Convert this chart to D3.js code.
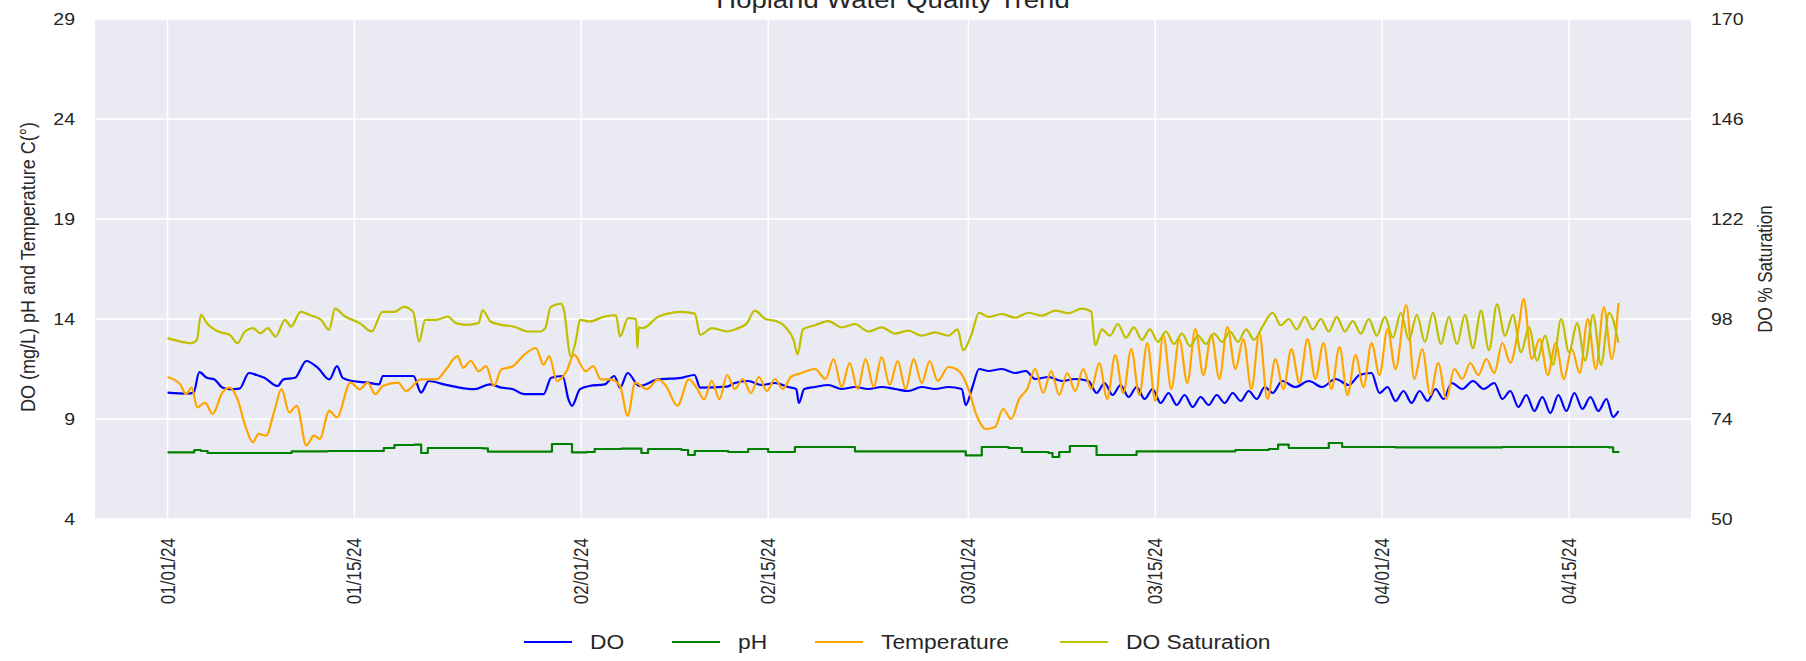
<!DOCTYPE html>
<html>
<head>
<meta charset="utf-8">
<script src="https://cdn.jsdelivr.net/npm/d3@7"></script>
<style>
body { margin: 0; background: #fff; }
svg text { font-family: "Liberation Sans", Arial, sans-serif; fill: #262626; }
</style>
</head>
<body>
<svg id="chart" width="1806" height="661"></svg>
<script>
// Readings, [days since 01/01/24, value]
const startDate = new Date(2024, 0, 1);

const doValues = [[0,10.32],[1.52,10.27],[1.95,10.32],[2.38,11.34],[2.95,11.06],[3.52,10.98],[4.1,10.57],[4.67,10.49],[5.39,10.52],[6.1,11.3],[6.68,11.2],[7.25,11.06],[8.25,10.65],[8.68,10.98],[9.54,11.06],[10.4,11.9],[11.26,11.56],[12.12,10.98],[12.7,11.64],[13.12,11.06],[13.84,10.9],[14.99,10.82],[15.85,10.73],[16.13,11.15],[17.28,11.15],[18.42,11.15],[19,10.32],[19.57,10.9],[20.72,10.73],[21.86,10.57],[23,10.49],[24.15,10.73],[25,10.57],[25.87,10.49],[26.73,10.24],[28.17,10.24],[28.74,11.06],[29.6,11.15],[30.03,9.99],[30.3,9.66],[30.9,10.49],[31.6,10.65],[32.75,10.73],[33.47,11.15],[33.9,10.57],[34.47,11.3],[35.33,10.65],[36.76,10.98],[38.48,11.06],[39.48,11.2],[39.9,10.57],[41.9,10.62],
  [42.5,10.8],[43.5,10.9],[44.5,10.7],[45.5,10.8],[46.5,10.6],[47.1,10.5],[47.3,9.8],[47.7,10.5],[48.5,10.6],[49.5,10.7],[50.5,10.5],[51.5,10.6],[52.5,10.5],[53.5,10.6],[54.5,10.5],[55.5,10.4],[56.5,10.6],[57.5,10.5],[58.5,10.6],[59.5,10.5],[59.8,9.7],[60.3,10.6],[60.8,11.5],[61.5,11.4],[62.5,11.5],[63.5,11.3],[64.3,11.4],[65,11.0],[66,11.1],[67,10.9],[68,11.0],[69,10.9],[69.6,10.3],[70.2,10.8],[70.8,10.2],[71.4,10.7],[72,10.1],[72.6,10.6],[73.2,10.0],[73.8,10.5],[74.4,9.8],[75,10.3],[75.6,9.7],[76.2,10.2],[76.8,9.6],[77.4,10.1],[78,9.7],[78.6,10.2],[79.2,9.8],[79.8,10.3],[80.4,9.9],[81,10.4],[81.6,10.0],[82.2,10.6],[82.8,10.3],[83.5,10.9],[84.5,10.6],[85.5,10.9],[86.5,10.6],[87.5,11.0],[88.5,10.7],[89.3,11.2],[90.2,11.3],[90.8,10.3],[91.4,10.6],[92,9.9],[92.6,10.4],[93.2,9.8],[93.8,10.4],[94.4,9.9],[95,10.5],[95.6,10.0],[96.2,10.8],[97,10.5],[97.8,10.9],[98.6,10.5],[99.4,10.8],[100,10.0],[100.6,10.4],[101.2,9.6],[101.8,10.2],[102.4,9.4],[103,10.1],[103.6,9.3],[104.2,10.2],[104.8,9.4],[105.4,10.3],[106,9.5],[106.6,10.1],[107.2,9.4],[107.8,10.0],[108.3,9.1],[108.7,9.4]];

const phValues = [[0,7.33],[1.5,7.33],[2,7.45],[2.5,7.4],[3,7.3],[9,7.3],[9.3,7.38],[12,7.4],[15.4,7.4],[16.2,7.55],[17,7.7],[18.5,7.72],[19,7.3],[19.5,7.55],[23.6,7.53],[24,7.37],[28.5,7.37],[28.8,7.75],[30,7.75],[30.3,7.33],[31.4,7.35],[32,7.5],[34,7.52],[35.5,7.3],[36,7.5],[38.5,7.45],[39,7.2],[39.5,7.4],[42,7.35],[43.5,7.5],[45,7.35],[47,7.6],[51,7.6],[51.5,7.38],[59.5,7.38],[59.8,7.18],[61,7.6],[63,7.55],[64,7.35],[66,7.3],[66.3,7.1],[66.8,7.35],[67.6,7.65],[69.3,7.65],[69.6,7.2],[72.3,7.2],[72.6,7.38],[78.4,7.38],[80,7.45],[82.5,7.5],[83.2,7.72],[84,7.55],[86,7.55],[87,7.8],[88,7.6],[92,7.58],[100,7.6],[104,7.6],[108,7.58],[108.3,7.35],[108.7,7.4]];

const tempValues = [[0,11.1],[0.95,10.73],[1.38,10.24],[1.8,10.57],[2.23,9.58],[2.81,9.82],[3.38,9.25],[4.1,10.32],[4.67,10.57],[5.24,9.99],[5.82,8.67],[6.39,7.84],[6.82,8.26],[7.39,8.17],[7.97,9.33],[8.54,10.49],[9.11,9.33],[9.68,9.66],[10.4,7.68],[10.97,8.17],[11.4,8.01],[12.12,9.41],[12.69,9.08],[13.7,10.82],[14.41,10.49],[14.99,10.82],[15.56,10.24],[16.13,10.65],[17.28,10.82],[17.85,10.4],[19,10.98],[20.14,10.98],[20.86,11.48],[21.72,12.14],[22.15,11.56],[22.72,11.9],[23.3,11.39],[23.87,11.64],[24.44,10.65],[25.01,11.48],[25.87,11.64],[26.73,12.22],[27.59,12.55],[28.17,11.72],[28.6,12.14],[29.17,10.9],[29.89,11.39],[30.46,12.22],[31.32,11.39],[31.89,11.64],[32.46,10.98],[33.18,10.98],[33.9,10.65],[34.47,9.17],[35.04,10.82],[35.9,10.49],[36.76,10.98],[37.34,10.65],[38.2,9.66],[39.05,10.98],[39.63,10.57],[40.2,9.99],[40.77,10.9],[41.35,9.99],[41.92,11.2],
  [42.5,10.5],[43.1,11.0],[43.7,10.3],[44.3,11.1],[44.9,10.4],[45.5,11.0],[46.1,10.5],[46.7,11.1],[47.5,11.3],[48.5,11.5],[49.3,11.0],[49.9,12.0],[50.5,10.6],[51.1,11.8],[51.7,10.5],[52.3,12.0],[52.9,10.6],[53.5,12.1],[54.1,10.7],[54.7,11.9],[55.3,10.5],[55.9,12.0],[56.5,10.8],[57.1,11.9],[57.7,10.9],[58.5,11.6],[59.3,11.4],[60,10.5],[60.6,9.2],[61.3,8.5],[62,8.6],[62.6,9.5],[63.2,9.0],[63.8,10.0],[64.4,10.5],[65,11.5],[65.6,10.3],[66.2,11.4],[66.8,10.2],[67.4,11.3],[68,10.4],[68.6,11.5],[69.2,10.5],[69.8,11.8],[70.4,10.0],[71,12.2],[71.6,10.3],[72.2,12.5],[72.8,10.2],[73.4,12.8],[74,9.9],[74.6,13.2],[75.2,10.5],[75.8,13.0],[76.4,10.8],[77,13.5],[77.6,11.2],[78.2,13.2],[78.8,11.0],[79.4,13.6],[80,11.5],[80.6,13.0],[81.2,10.5],[81.8,13.3],[82.4,10.0],[83,12.0],[83.6,10.5],[84.2,12.5],[84.8,10.8],[85.4,13.0],[86,11.0],[86.6,12.8],[87.2,10.5],[87.8,12.6],[88.4,10.2],[89,12.2],[89.6,10.6],[90.2,12.8],[90.8,11.2],[91.4,13.5],[92,11.5],[92.8,14.7],[93.4,11.0],[94,12.5],[94.6,10.2],[95.2,11.8],[95.8,10.0],[96.4,11.5],[97,11.0],[97.6,11.8],[98.2,11.2],[98.8,12.0],[99.4,11.3],[100,12.8],[100.6,11.8],[101.2,13.5],[101.6,15.0],[102.2,12.0],[102.8,13.0],[103.4,11.2],[104,12.8],[104.6,11.0],[105.2,12.5],[105.8,11.3],[106.4,14.0],[107,11.5],[107.6,14.6],[108.2,12.0],[108.7,14.8]];

const doSatValues = [[0,93.4],[0.95,92.6],[1.8,92.2],[2.2,93],[2.5,99],[2.95,97],[3.8,95],[4.67,94.2],[5.24,92.2],[5.8,95],[6.4,95.8],[6.96,94.6],[7.5,95.8],[8.1,93.8],[8.8,97.8],[9.25,96.2],[9.97,99.7],[10.7,98.9],[11.5,97.8],[12.1,95.4],[12.55,100.5],[13.3,98.6],[14.4,97],[15.3,95],[16.1,99.7],[17,99.7],[17.7,100.9],[18.4,99.7],[18.85,92.6],[19.3,97.8],[20.1,97.8],[21,98.6],[21.6,97],[22.4,96.6],[23.3,97],[23.6,100.1],[24.2,97.4],[25,96.6],[25.9,96.2],[27,95],[27.9,95],[28.3,95.8],[28.7,100.9],[29.5,101.7],[29.7,100.1],[30.2,89],[30.6,93],[30.9,97.8],[31.6,97.4],[32.75,98.6],[33.6,98.9],[33.9,93.8],[34.5,98.2],[35.1,98],[35.2,91],[35.3,96],[35.6,95.8],[36.8,98.6],[38.5,99.7],[39.5,99.3],[39.9,94.2],[40.8,95.8],[41.9,95],
  [42.5,95.5],[43.4,97],[44,100],[44.8,98],[45.6,97.5],[46.3,96],[46.9,93],[47.2,89.5],[47.6,95.5],[48.5,96.5],[49.5,97.5],[50.5,96],[51.5,96.8],[52.5,95],[53.5,96],[54.5,94.5],[55.5,95.2],[56.5,94],[57.5,94.8],[58.5,94],[59.2,95.5],[59.6,90.5],[60.2,94],[60.8,99.5],[61.5,98.5],[62.5,99.2],[63.5,98.3],[64.5,99.5],[65.5,98.8],[66.5,100],[67.5,99.4],[68.5,100.5],[69.2,99.8],[69.5,91.7],[70,95.5],[70.6,94],[71.2,96.8],[71.8,93.5],[72.4,96],[73,93],[73.6,95.5],[74.2,92.5],[74.8,95],[75.4,92],[76,94.5],[76.6,91.5],[77.2,94],[77.8,92],[78.4,94.5],[79,92.5],[79.6,95],[80.2,92.5],[80.8,95.5],[81.4,93],[82,96],[82.8,99.5],[83.4,96.5],[84,98],[84.6,95.5],[85.2,98.5],[85.8,95.5],[86.4,98],[87,95],[87.6,98.5],[88.2,95],[88.8,97.5],[89.4,94.5],[90,98],[90.6,94],[91.2,98.5],[91.8,93.5],[92.4,99.5],[93,93],[93.6,99],[94.2,92.5],[94.8,99.5],[95.4,92],[96,98.5],[96.6,92],[97.2,99],[97.8,91],[98.4,100],[99,90.5],[99.6,101.5],[100.2,94],[100.8,99],[101.4,90],[102,96],[102.6,88],[103.2,94],[103.8,87],[104.4,98],[105,90],[105.6,97],[106.2,88],[106.8,99],[107.4,87],[108,99.5],[108.7,92.3]];

const seriesNames = ["DO", "pH", "Temperature", "DO Saturation"];
const seriesColors = ["#0000ff", "#008000", "#ffa500", "#bfbf00"];
const leftTicks = [4, 9, 14, 19, 24, 29];
const rightTicks = [50, 74, 98, 122, 146, 170];
const dateTicks = ["2024-01-01", "2024-01-15", "2024-02-01", "2024-02-15", "2024-03-01", "2024-03-15", "2024-04-01", "2024-04-15"];

let svg = d3.select("#chart");
let margin = {top: 19, right: 115, bottom: 142, left: 95};
let width = 1806 - margin.left - margin.right,
    height = 661 - margin.top - margin.bottom;
let sx = 1.17; // text in the picture is a little wider than tall

let toDate = d => new Date(startDate.getTime() + d * 864e5);

// matplotlib style 5% padding around the data
let allDays = [doValues, phValues, tempValues, doSatValues].flat().map(d => d[0]);
let dMin = d3.min(allDays), dMax = d3.max(allDays), pad = (dMax - dMin) * 0.05;
let xScale = d3.scaleTime().domain([toDate(dMin - pad), toDate(dMax + pad)]).range([0, width]);
let yLeft = d3.scaleLinear().domain([4, 29]).range([height, 0]);
let yRight = d3.scaleLinear().domain([50, 170]).range([height, 0]);

let g = svg.append("g").attr("transform", "translate(" + margin.left + "," + margin.top + ")");

g.append("rect").attr("width", width).attr("height", height).attr("fill", "#eaeaf2");

let parse = d3.timeParse("%Y-%m-%d");
let fmt = d3.timeFormat("%m/%d/%y");

// grid
g.selectAll(".hgrid").data(leftTicks).enter().append("line")
    .attr("x1", 0).attr("x2", width)
    .attr("y1", d => yLeft(d)).attr("y2", d => yLeft(d))
    .attr("stroke", "#fff").attr("stroke-width", 1.5);
g.selectAll(".vgrid").data(dateTicks).enter().append("line")
    .attr("x1", d => xScale(parse(d))).attr("x2", d => xScale(parse(d)))
    .attr("y1", 0).attr("y2", height)
    .attr("stroke", "#fff").attr("stroke-width", 1.5);

function stretched(sel, x, y, rot) {
    sel.attr("transform", "translate(" + x + "," + y + ") scale(" + sx + ",1)" + (rot ? " rotate(" + rot + ")" : ""));
}

// left tick labels
g.selectAll(".ltick").data(leftTicks).enter().append("text")
    .attr("text-anchor", "end").attr("dominant-baseline", "central")
    .style("font-size", "16.7px")
    .text(d => d)
    .each(function (d) { stretched(d3.select(this), -20, yLeft(d)); });

// right tick labels
g.selectAll(".rtick").data(rightTicks).enter().append("text")
    .attr("text-anchor", "start").attr("dominant-baseline", "central")
    .style("font-size", "16.7px")
    .text(d => d)
    .each(function (d) { stretched(d3.select(this), width + 20, yRight(d)); });

// date labels
g.selectAll(".xtick").data(dateTicks).enter().append("text")
    .attr("text-anchor", "end").attr("dominant-baseline", "central")
    .style("font-size", "17px")
    .text(d => fmt(parse(d)))
    .each(function (d) { stretched(d3.select(this), xScale(parse(d)), height + 19, -90); });

// lines
let lineLeft = d3.line().x(d => xScale(toDate(d[0]))).y(d => yLeft(d[1]));
let lineRight = d3.line().x(d => xScale(toDate(d[0]))).y(d => yRight(d[1]));

[doValues, phValues, tempValues].forEach(function (series, i) {
    g.append("path").datum(series)
        .attr("fill", "none")
        .attr("stroke", seriesColors[i])
        .attr("stroke-width", 2.2)
        .attr("stroke-linejoin", "round")
        .attr("d", lineLeft.curve(i == 1 ? d3.curveStepAfter : d3.curveMonotoneX));
});
g.append("path").datum(doSatValues)
    .attr("fill", "none")
    .attr("stroke", seriesColors[3])
    .attr("stroke-width", 2.2)
    .attr("stroke-linejoin", "round")
    .attr("d", lineRight.curve(d3.curveMonotoneX));

// axis titles
svg.append("text").attr("text-anchor", "middle").attr("dominant-baseline", "central")
    .style("font-size", "18px")
    .text("DO (mg/L) pH and Temperature C(°)")
    .each(function () { stretched(d3.select(this), 27, margin.top + height / 2 - 2, -90); });
svg.append("text").attr("text-anchor", "middle").attr("dominant-baseline", "central")
    .style("font-size", "17px")
    .text("DO % Saturation")
    .each(function () { stretched(d3.select(this), 1765, margin.top + height / 2, -90); });

// title, cut by the top edge like the picture
svg.append("text").attr("text-anchor", "middle")
    .style("font-size", "23.5px")
    .text("Hopland Water Quality Trend")
    .each(function () { stretched(d3.select(this), margin.left + width / 2, 7.5); });

// legend
let legendX = [524, 672, 815, 1060];
let legend = svg.selectAll(".legend").data(seriesNames).enter().append("g")
    .attr("transform", (d, i) => "translate(" + legendX[i] + ",642)");
legend.append("line")
    .attr("x1", 0).attr("x2", 48)
    .attr("stroke", (d, i) => seriesColors[i]).attr("stroke-width", 2);
legend.append("text")
    .attr("dominant-baseline", "central")
    .style("font-size", "19.5px")
    .text(d => d)
    .each(function () { stretched(d3.select(this), 66, 0); });
</script>
</body>
</html>
